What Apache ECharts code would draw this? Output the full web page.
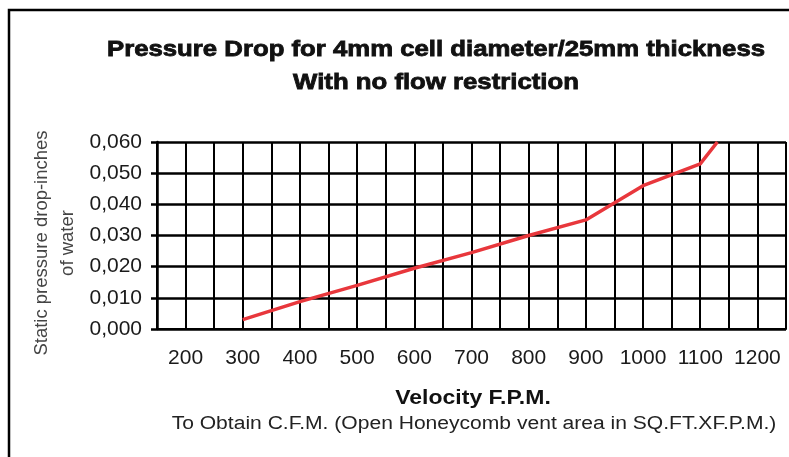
<!DOCTYPE html>
<html>
<head>
<meta charset="utf-8">
<script src="https://cdn.jsdelivr.net/npm/echarts@6/dist/echarts.min.js"></script>
<style>
  html, body { margin: 0; padding: 0; background: #fff; }
  #chart { width: 789px; height: 457px; }
</style>
</head>
<body>
<div id="chart"></div>
<script>
// velocity (F.P.M.) and pressure drop
var velocity = [300, 400, 500, 600, 700, 800, 900, 1000, 1100, 1130];
var pressure = [0.003, 0.0088, 0.0140, 0.0195, 0.0245, 0.0300, 0.0350, 0.0460, 0.0530, 0.0600];
var xLabels = [200, 300, 400, 500, 600, 700, 800, 900, 1000, 1100, 1200];

var titleLines = ['Pressure Drop for 4mm cell diameter/25mm thickness', 'With no flow restriction'];
var xName = 'Velocity F.P.M.';
var xNote = 'To Obtain C.F.M. (Open Honeycomb vent area in SQ.FT.XF.P.M.)';
var yName = 'Static pressure drop-inches\nof water';

var chart = echarts.init(document.getElementById('chart'));

var font = 'Liberation Sans, Arial, sans-serif';
var stretch = 1.17; // the original picture is a bit wider than tall

var option = {
  animation: false,
  backgroundColor: '#fff',
  grid: {
    left: 157,
    right: 2,
    top: 142,
    bottom: 128
  },
  xAxis: {
    type: 'value',
    min: 150,
    max: 1250,
    interval: 50,
    axisLine: { show: true, lineStyle: { color: '#000', width: 2 } },
    axisTick: { show: false },
    axisLabel: {
      margin: 19,
      fontFamily: font,
      fontSize: 21,
      color: '#1a1a1a',
      formatter: function (v) {
        return (xLabels.indexOf(v) >= 0) ? String(v) : '';
      }
    },
    splitLine: { show: true, lineStyle: { color: '#000', width: 2 } }
  },
  yAxis: {
    type: 'value',
    min: 0,
    max: 0.06,
    interval: 0.01,
    axisLine: { show: true, lineStyle: { color: '#000', width: 2.5 } },
    axisTick: { show: true, length: 6, lineStyle: { color: '#000', width: 2.5 } },
    axisLabel: {
      margin: 15,
      fontFamily: font,
      fontSize: 21,
      color: '#1a1a1a',
      formatter: function (v) {
        return v.toFixed(3).replace('.', ',');
      }
    },
    splitLine: { show: true, lineStyle: { color: '#000', width: 2.5 } }
  },
  series: [
    {
      type: 'line',
      data: velocity.map(function (v, i) { return [v, pressure[i]]; }),
      showSymbol: false,
      clip: true,
      lineStyle: { color: '#e8373c', width: 3.5 },
      z: 5
    }
  ],
  graphic: [
    {
      // frame: only left and top edges fall inside the canvas
      type: 'rect',
      shape: { x: 9, y: 10, width: 900, height: 600 },
      style: { fill: 'none', stroke: '#000', lineWidth: 2.5 },
      silent: true
    },
    {
      type: 'text',
      x: 436, y: 50,
      scaleX: stretch,
      style: {
        text: titleLines[0],
        font: 'bold 22px ' + font,
        fill: '#111',
        stroke: '#111',
        lineWidth: 0.8,
        textAlign: 'center',
        textVerticalAlign: 'middle'
      }
    },
    {
      type: 'text',
      x: 436, y: 83,
      scaleX: stretch,
      style: {
        text: titleLines[1],
        font: 'bold 22px ' + font,
        fill: '#111',
        stroke: '#111',
        lineWidth: 0.8,
        textAlign: 'center',
        textVerticalAlign: 'middle'
      }
    },
    {
      type: 'text',
      x: 473, y: 398,
      scaleX: 1.15,
      style: {
        text: xName,
        font: 'bold 20px ' + font,
        fill: '#111',
        textAlign: 'center',
        textVerticalAlign: 'middle'
      }
    },
    {
      type: 'text',
      x: 474, y: 424,
      scaleX: stretch,
      style: {
        text: xNote,
        font: '18px ' + font,
        fill: '#222',
        textAlign: 'center',
        textVerticalAlign: 'middle'
      }
    },
    {
      type: 'text',
      x: 55, y: 243,
      rotation: Math.PI / 2,
      style: {
        text: yName,
        font: '18.5px ' + font,
        lineHeight: 26,
        fill: '#444',
        textAlign: 'center',
        textVerticalAlign: 'middle'
      }
    }
  ]
};

chart.setOption(option);
</script>
</body>
</html>
